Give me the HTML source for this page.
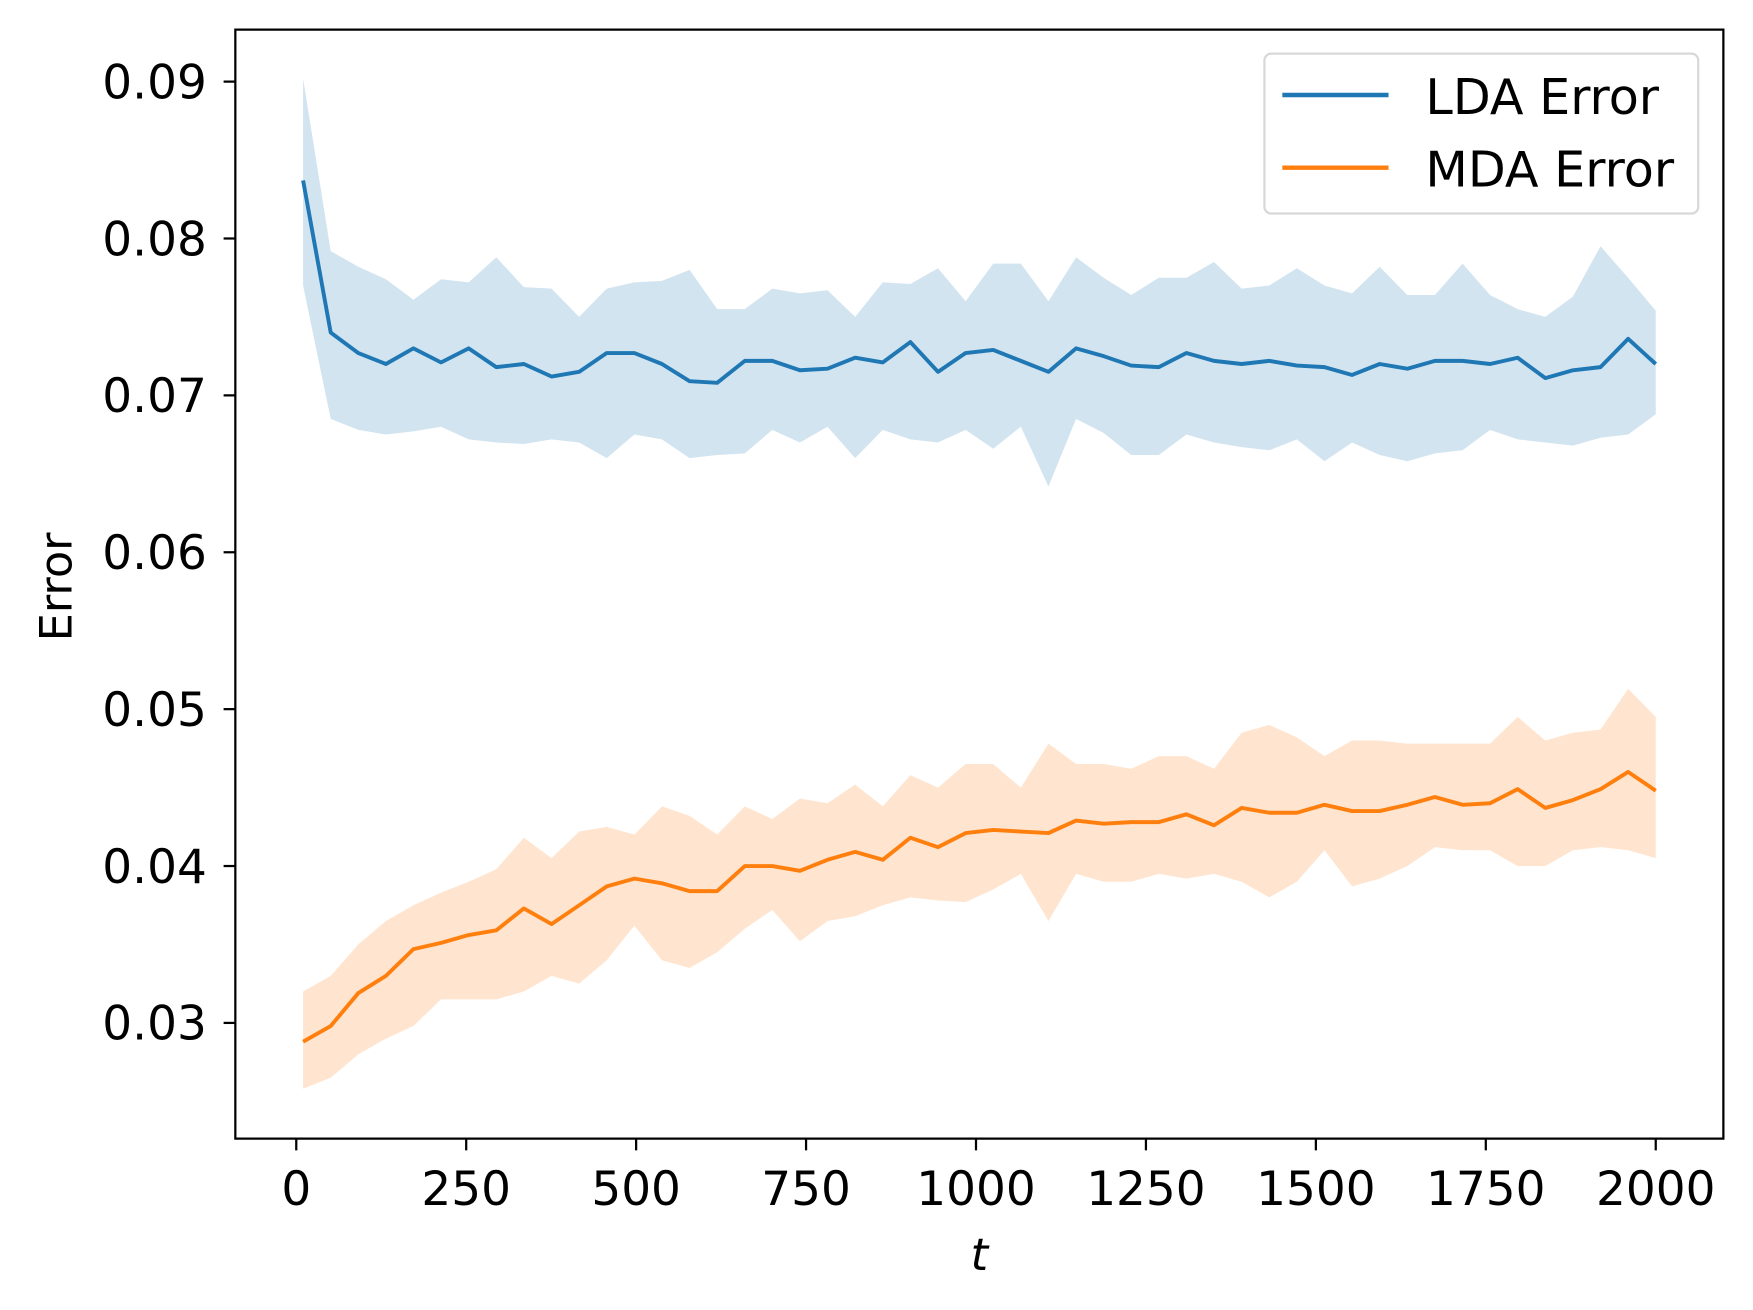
<!DOCTYPE html>
<html><head><meta charset="utf-8"><style>
html,body{margin:0;padding:0;background:#fff;}
svg{display:block;font-family:"DejaVu Sans","Liberation Sans",sans-serif;}
</style></head><body>
<svg id="chart" width="1753" height="1310" viewBox="0 0 1568 1171.8" preserveAspectRatio="none" xmlns="http://www.w3.org/2000/svg">
<rect width="1568" height="1172" fill="#fff"/>
<g id="plot"></g>
<rect x="210.5" y="26.5" width="1331" height="992" fill="none" stroke="#000" stroke-width="2"/>
<g id="axes"></g>
<text transform="translate(64,525) rotate(-90)" text-anchor="middle" font-size="40">Error</text>
<text x="876" y="1136" text-anchor="middle" font-size="40" font-style="italic">t</text>
<g>
<rect x="1131" y="48" width="388" height="143" rx="6" fill="#fff" fill-opacity="0.85" stroke="#d8d8d8" stroke-width="2"/>
<line x1="1147" y1="85" x2="1242" y2="85" stroke="#1f77b4" stroke-width="4"/>
<text x="1275" y="102" font-size="44">LDA Error</text>
<line x1="1147" y1="150" x2="1242" y2="150" stroke="#ff7f0e" stroke-width="4"/>
<text x="1275" y="167" font-size="44">MDA Error</text>
</g>
</svg>
<script>
const ldaMean=[0.0837,0.0740,0.0727,0.0720,0.0730,0.0721,0.0730,0.0718,0.0720,0.0712,0.0715,0.0727,0.0727,0.0720,0.0709,0.0708,0.0722,0.0722,0.0716,0.0717,0.0724,0.0721,0.0734,0.0715,0.0727,0.0729,0.0722,0.0715,0.0730,0.0725,0.0719,0.0718,0.0727,0.0722,0.0720,0.0722,0.0719,0.0718,0.0713,0.0720,0.0717,0.0722,0.0722,0.0720,0.0724,0.0711,0.0716,0.0718,0.0736,0.0720];
const ldaUpper=[0.0902,0.0792,0.0782,0.0774,0.0761,0.0774,0.0772,0.0788,0.0769,0.0768,0.0750,0.0768,0.0772,0.0773,0.0780,0.0755,0.0755,0.0768,0.0765,0.0767,0.0750,0.0772,0.0771,0.0781,0.0760,0.0784,0.0784,0.0760,0.0788,0.0775,0.0764,0.0775,0.0775,0.0785,0.0768,0.0770,0.0781,0.0770,0.0765,0.0782,0.0764,0.0764,0.0784,0.0764,0.0755,0.0750,0.0763,0.0795,0.0775,0.0754];
const ldaLower=[0.0770,0.0685,0.0678,0.0675,0.0677,0.0680,0.0672,0.0670,0.0669,0.0672,0.0670,0.0660,0.0675,0.0672,0.0660,0.0662,0.0663,0.0678,0.0670,0.0680,0.0660,0.0678,0.0672,0.0670,0.0678,0.0666,0.0680,0.0642,0.0685,0.0676,0.0662,0.0662,0.0675,0.0670,0.0667,0.0665,0.0672,0.0658,0.0670,0.0662,0.0658,0.0663,0.0665,0.0678,0.0672,0.0670,0.0668,0.0673,0.0675,0.0688];
const mdaMean=[0.0288,0.0298,0.0319,0.0330,0.0347,0.0351,0.0356,0.0359,0.0373,0.0363,0.0375,0.0387,0.0392,0.0389,0.0384,0.0384,0.0400,0.0400,0.0397,0.0404,0.0409,0.0404,0.0418,0.0412,0.0421,0.0423,0.0422,0.0421,0.0429,0.0427,0.0428,0.0428,0.0433,0.0426,0.0437,0.0434,0.0434,0.0439,0.0435,0.0435,0.0439,0.0444,0.0439,0.0440,0.0449,0.0437,0.0442,0.0449,0.0460,0.0448];
const mdaUpper=[0.0320,0.0330,0.0350,0.0365,0.0375,0.0383,0.0390,0.0398,0.0418,0.0405,0.0422,0.0425,0.0420,0.0438,0.0432,0.0420,0.0438,0.0430,0.0443,0.0440,0.0452,0.0438,0.0458,0.0450,0.0465,0.0465,0.0450,0.0478,0.0465,0.0465,0.0462,0.0470,0.0470,0.0462,0.0485,0.0490,0.0482,0.0470,0.0480,0.0480,0.0478,0.0478,0.0478,0.0478,0.0495,0.0480,0.0485,0.0487,0.0513,0.0495];
const mdaLower=[0.0258,0.0265,0.0280,0.0290,0.0298,0.0315,0.0315,0.0315,0.0320,0.0330,0.0325,0.0340,0.0362,0.0340,0.0335,0.0345,0.0360,0.0372,0.0352,0.0365,0.0368,0.0375,0.0380,0.0378,0.0377,0.0385,0.0395,0.0365,0.0395,0.0390,0.0390,0.0395,0.0392,0.0395,0.0390,0.0380,0.0390,0.0410,0.0387,0.0392,0.0400,0.0412,0.0410,0.0410,0.0400,0.0400,0.0410,0.0412,0.0410,0.0405];
const tStart=10, tEnd=2000;
const xTicks=[0,250,500,750,1000,1250,1500,1750,2000];
const yTicks=[0.03,0.04,0.05,0.06,0.07,0.08,0.09];
const yTickLabels=["0.03","0.04","0.05","0.06","0.07","0.08","0.09"];

const NS="http://www.w3.org/2000/svg";
function xS(t){return 265+(t-0)*(1481-265)/2000;}
function yS(v){return 73+(0.09-v)*(915-73)/0.06;}
function tAt(i,n){return tStart+(tEnd-tStart)*i/(n-1);}
function mk(tag,attrs,parent){const e=document.createElementNS(NS,tag);for(const k in attrs)e.setAttribute(k,attrs[k]);parent.appendChild(e);return e;}
const plot=document.getElementById('plot'), axes=document.getElementById('axes');
function band(up,lo,color,name){
  const n=up.length;let d='';
  for(let i=0;i<n;i++)d+=(i?'L':'M')+xS(tAt(i,n)).toFixed(1)+','+yS(up[i]).toFixed(1);
  for(let i=n-1;i>=0;i--)d+='L'+xS(tAt(i,n)).toFixed(1)+','+yS(lo[i]).toFixed(1);
  const p=mk('path',{d:d+'Z',fill:color,'fill-opacity':0.2,stroke:'none'},plot);
  
  
}
function line(m,color,name){
  const n=m.length;
  const pts=m.map((v,i)=>xS(tAt(i,n)).toFixed(1)+','+yS(v).toFixed(1)).join(' ');
  const p=mk('polyline',{points:pts,fill:'none',stroke:color,'stroke-width':3.5,'stroke-linejoin':'round'},plot);
  
  
}
band(ldaUpper,ldaLower,'#1f77b4','lda-confidence-band');
band(mdaUpper,mdaLower,'#ff7f0e','mda-confidence-band');
line(ldaMean,'#1f77b4','lda-error-line');
line(mdaMean,'#ff7f0e','mda-error-line');
xTicks.forEach(t=>{
  const x=xS(t);
  const l=mk('line',{x1:x,y1:1019,x2:x,y2:1029,stroke:'#000','stroke-width':2},axes);
  
  
  const tx=mk('text',{x:x,y:1078,'text-anchor':'middle','font-size':42},axes);
  tx.textContent=String(t);
  
  
});
yTicks.forEach((v,i)=>{
  const y=yS(v);
  const l=mk('line',{x1:200,y1:y,x2:210,y2:y,stroke:'#000','stroke-width':2},axes);
  
  
  const tx=mk('text',{x:185,y:y+15,'text-anchor':'end','font-size':42},axes);
  tx.textContent=yTickLabels[i];
  
  
});
</script>
</body></html>
